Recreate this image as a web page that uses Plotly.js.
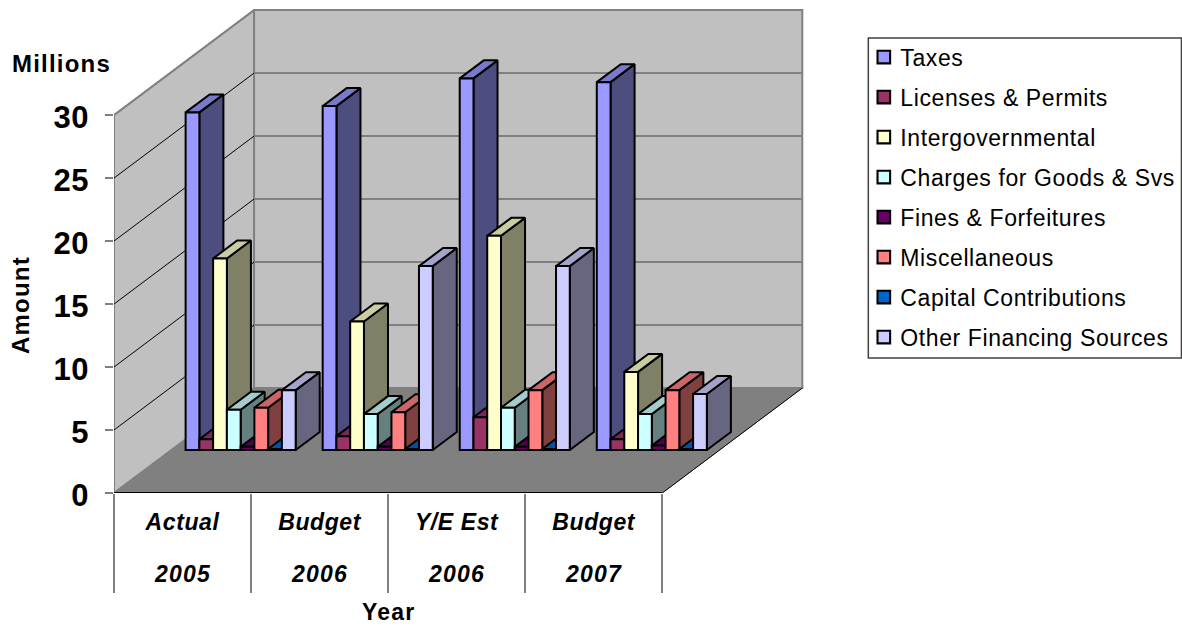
<!DOCTYPE html>
<html>
<head>
<meta charset="utf-8">
<script src="https://cdn.plot.ly/plotly-3.0.1.min.js"></script>
<style>
  html, body { margin: 0; padding: 0; background: #fff; }
  #chart { width: 1182px; height: 627px; }
  .legendtext { letter-spacing: 0.6px; }
  .legendpoints path { transform: translate(23.5px, 0) scale(1.05); }
  .annotation-text { letter-spacing: 1.2px; }
  .xtick text { letter-spacing: 0.6px; }
  .ytick text { letter-spacing: 0.4px; }
</style>
</head>
<body>
<div id="chart"></div>
<script>
// Budget revenue by source, in millions, drawn as oblique 3D columns.
const periods = ['Actual', 'Budget', 'Y/E Est', 'Budget'];
const years = ['2005', '2006', '2006', '2007'];
const yTicks = [0, 5, 10, 15, 20, 25, 30];

const taxes = [26.8, 27.3, 29.5, 29.2];
const licenses = [0.85, 1.1, 2.6, 0.85];
const intergovernmental = [15.2, 10.2, 17.0, 6.2];
const charges = [3.2, 2.85, 3.35, 2.85];
const fines = [0.25, 0.25, 0.25, 0.35];
const miscellaneous = [3.35, 3.0, 4.75, 4.75];
const capital = [0.08, 0.08, 0.08, 0.08];
const otherFinancing = [4.75, 14.6, 14.6, 4.45];

const seriesNames = ['Taxes', 'Licenses & Permits', 'Intergovernmental', 'Charges for Goods & Svs',
  'Fines & Forfeitures', 'Miscellaneous', 'Capital Contributions', 'Other Financing Sources'];
const seriesValues = [taxes, licenses, intergovernmental, charges, fines, miscellaneous, capital, otherFinancing];
const seriesColors = ['#9999FF', '#993366', '#FFFFCC', '#CCFFFF', '#660066', '#FF8080', '#0066CC', '#CCCCFF'];

// Plot area in pixels; one category is 137 px wide and one value unit 12.6 px tall.
const plotLeft = 114, plotBottom = 493, pxPerCat = 137, pxPerUnit = 12.6;
const xMax = 5.1, yMax = 38.5;
const plotW = xMax * pxPerCat, plotH = yMax * pxPerUnit;
const paperX = px => (px - plotLeft) / plotW;
const paperY = py => (plotBottom - py) / plotH;

// Oblique projection: full floor depth moves a point right and up by these axis amounts.
const depthX = 140 / pxPerCat, depthY = 105 / pxPerUnit;
const project = (cat, val, d) => [cat + depthX * d, val + depthY * d];

const barDepthAt = 43 / 105;      // depth of the column fronts on the floor
const barDepth = 17.5 / 105 * 1.03; // thickness of a column
const barWidth = 13.75 / pxPerCat;
const groupPad = 0.104;

function shade(hex, f) {
  const n = parseInt(hex.slice(1), 16);
  const c = [n >> 16, (n >> 8) & 255, n & 255].map(v => Math.round(v * f));
  return 'rgb(' + c.join(',') + ')';
}

function polygon(pts, color, line, width, z, name) {
  const x = [], y = [];
  pts.forEach(poly => {
    poly.forEach(p => { x.push(p[0]); y.push(p[1]); });
    x.push(poly[0][0], null); y.push(poly[0][1], null);
  });
  return {
    type: 'scatter', mode: 'lines', x, y, fill: 'toself', fillcolor: color,
    line: { color: line, width }, showlegend: false, hoverinfo: 'skip', zorder: z, name
  };
}

function strokes(segs, color, width, z, name) {
  const x = [], y = [];
  segs.forEach(s => {
    s.forEach(p => { x.push(p[0]); y.push(p[1]); });
    x.push(null); y.push(null);
  });
  return {
    type: 'scatter', mode: 'lines', x, y, line: { color, width },
    showlegend: false, hoverinfo: 'skip', zorder: z, name
  };
}

const traces = [];
const nCats = periods.length;

// Walls and floor
traces.push(polygon([[project(0, 0, 0), project(0, 30, 0), project(0, 30, 1), project(0, 0, 1)]],
  '#C0C0C0', '#808080', 2, -5, 'side wall'));
traces.push(polygon([[project(0, 0, 1), project(0, 30, 1), project(nCats, 30, 1), project(nCats, 0, 1)]],
  '#C0C0C0', '#808080', 2, -5, 'back wall'));
traces.push(strokes(yTicks.slice(1, -1).map(v => [project(0, v, 1), project(nCats, v, 1)]),
  '#808080', 2, -4, 'back grid'));
traces.push(strokes(yTicks.slice(1, -1).map(v => [project(0, v, 0), project(0, v, 1)]),
  '#000000', 1, -4, 'side grid'));
traces.push(polygon([[project(0, 0, 0), project(nCats, 0, 0), project(nCats, 0, 1), project(0, 0, 1)]],
  '#808080', '#808080', 1, -3, 'floor'));
traces.push(strokes([[project(-8 / pxPerCat, 0, 0), project(nCats, 0, 0)]], '#000000', 2, -2, 'front edge'));
traces.push(strokes([[project(nCats, 0, 0), project(nCats, 0, 1)]], '#000000', 1, -2, 'floor edge'));

// Columns, back-to-front by series: side and top first, then the front as a bar
const floorAtBars = depthY * barDepthAt;
seriesValues.forEach((vals, i) => {
  const left = k => k + groupPad + i * barWidth;
  const sides = vals.map((v, k) => {
    const xr = left(k) + barWidth;
    return [[xr + depthX * barDepthAt, floorAtBars],
      [xr + depthX * barDepthAt, floorAtBars + v],
      [xr + depthX * (barDepthAt + barDepth), floorAtBars + v + depthY * barDepth],
      [xr + depthX * (barDepthAt + barDepth), floorAtBars + depthY * barDepth]];
  });
  const tops = vals.map((v, k) => {
    const xl = left(k) + depthX * barDepthAt;
    return [[xl, floorAtBars + v], [xl + barWidth, floorAtBars + v],
      [xl + barWidth + depthX * barDepth, floorAtBars + v + depthY * barDepth],
      [xl + depthX * barDepth, floorAtBars + v + depthY * barDepth]];
  });
  traces.push(polygon(sides, shade(seriesColors[i], 0.5), '#000000', 2, i * 2 + 1, seriesNames[i] + ' side'));
  traces.push(polygon(tops, shade(seriesColors[i], 0.8), '#000000', 2, i * 2 + 1, seriesNames[i] + ' top'));
  traces.push({
    type: 'bar', name: seriesNames[i], legendgroup: seriesNames[i],
    x: vals.map((v, k) => left(k) + depthX * barDepthAt + barWidth / 2),
    y: vals, base: vals.map(() => floorAtBars), width: barWidth,
    marker: { color: seriesColors[i], line: { color: '#000000', width: 2 } },
    hovertemplate: '%{y}<extra>' + seriesNames[i] + '</extra>', zorder: i * 2 + 2
  });
});

const labelFont = { family: 'Liberation Sans, Arial, sans-serif', color: '#000000' };
const titleFont = { size: 24, weight: 'bold', family: labelFont.family, color: '#000' };

const layout = {
  width: 1182, height: 627, showlegend: true,
  paper_bgcolor: '#FFFFFF', plot_bgcolor: 'rgba(0,0,0,0)',
  barmode: 'overlay',
  margin: { l: plotLeft, t: plotBottom - plotH, b: 627 - plotBottom, r: 1182 - plotLeft - plotW, pad: 0, autoexpand: false },
  font: labelFont,
  xaxis: {
    range: [0, xMax], showgrid: false, zeroline: false, showline: false,
    tickmode: 'array', tickvals: periods.map((p, k) => k + 0.5), ticktext: periods,
    ticks: '', ticklabelstandoff: 13,
    tickfont: { family: labelFont.family, size: 23, color: '#000', weight: 'bold', style: 'italic' },
    minor: { tickmode: 'array', tickvals: [0, 1, 2, 3, 4], ticks: 'outside', ticklen: 99, tickwidth: 2, tickcolor: '#808080', showgrid: false }
  },
  yaxis: {
    range: [0, yMax], showgrid: false, zeroline: false, showline: false,
    tickmode: 'array', tickvals: yTicks, ticks: 'outside', ticklen: 8, tickwidth: 2, tickcolor: '#808080',
    ticklabelstandoff: 10, ticklabelshift: 2,
    tickfont: { family: labelFont.family, size: 31, color: '#000', weight: 'bold' }
  },
  legend: {
    x: paperX(860), y: paperY(35.5), xanchor: 'left', yanchor: 'top',
    traceorder: 'grouped', tracegroupgap: 7.1, bgcolor: 'rgba(0,0,0,0)', borderwidth: 0,
    font: { family: labelFont.family, size: 23, color: '#000' }
  },
  shapes: [{
    type: 'rect', xref: 'paper', yref: 'paper', layer: 'below',
    x0: paperX(868), x1: paperX(1181), y0: paperY(38), y1: paperY(358),
    fillcolor: '#FFFFFF', line: { color: '#404040', width: 1.5 }
  }],
  annotations: [
    { text: 'Millions', xref: 'paper', yref: 'paper', x: paperX(62), y: paperY(63), xanchor: 'center', yanchor: 'middle', showarrow: false, font: titleFont },
    { text: 'Amount', xref: 'paper', yref: 'paper', x: paperX(20), y: paperY(305), xanchor: 'center', yanchor: 'middle', textangle: -90, showarrow: false, font: titleFont },
    { text: 'Year', xref: 'x', yref: 'paper', x: 2, y: paperY(612.5), xanchor: 'center', yanchor: 'middle', showarrow: false,
      font: { size: 23, weight: 'bold', family: labelFont.family, color: '#000' } }
  ].concat(years.map((yr, k) => ({
    text: yr, xref: 'x', yref: 'paper', x: k + 0.5, y: paperY(574), xanchor: 'center', yanchor: 'middle', showarrow: false,
    font: { size: 23, weight: 'bold', style: 'italic', family: labelFont.family, color: '#000' }
  })))
};

Plotly.newPlot('chart', traces, layout, { displayModeBar: false });
</script>
</body>
</html>
